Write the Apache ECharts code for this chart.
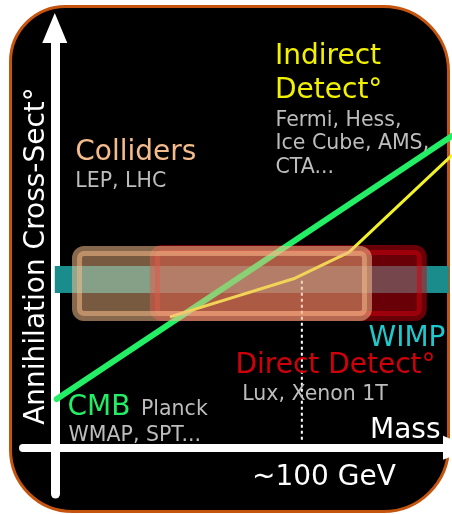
<!DOCTYPE html>
<html>
<head>
<meta charset="utf-8">
<script src="https://cdn.jsdelivr.net/npm/echarts@6/dist/echarts.min.js"></script>
<style>
  html, body { margin: 0; padding: 0; background: #ffffff; }
  #chart { width: 452px; height: 514px; }
</style>
</head>
<body>
<div id="chart"></div>
<script>
// ---- data (schematic units: mass on x, cross-section on y) ----
const massRange = [-8, 100];
const crossRange = [-11, 100];
const cmbMass = [0.5, 100];
const cmbCross = [11.6, 74.3];
const indirectMass = [29.0, 60.5, 74.1, 100];
const indirectCross = [31.2, 40.4, 46.6, 69.7];
const wimpBand = [0, 99.2, 36.9, 43.3];      // mass from, mass to, cross from, cross to
const colliderBox = [5.6, 78.6, 31.4, 46.9];
const directBox = [25.2, 92.4, 31.4, 47.1];
const gevMass = 62.2;
const gevCross = [1.9, 40];
const axisTitleY = 'Annihilation Cross-Sect°';
const axisTitleX = 'Mass';
const gevLabel = '~100 GeV';

const FONT = 'DejaVu Sans';
const BIG = 28, SMALL = 20.5;
const GREY = '#bdbdbd';

const chart = echarts.init(document.getElementById('chart'), null, { renderer: 'canvas' });

function pairs(xs, ys) { return xs.map((x, i) => [x, ys[i]]); }

function boxSeries(name, box, fill, stroke, lw, r, z) {
  return {
    type: 'custom', name: name, z: z,
    data: [box],
    encode: { x: [0, 1], y: [2, 3] },
    renderItem: function (params, api) {
      const p0 = api.coord([api.value(0), api.value(3)]);
      const p1 = api.coord([api.value(1), api.value(2)]);
      return {
        type: 'rect',
        shape: { x: p0[0], y: p0[1], width: p1[0] - p0[0], height: p1[1] - p0[1], r: r },
        style: { fill: fill, stroke: stroke, lineWidth: lw }
      };
    }
  };
}

function txt(text, x, y, size, color, lh) {
  return {
    type: 'text', x: x, y: y, z: 100, silent: true,
    style: {
      text: text, fill: color, font: size + 'px "' + FONT + '"',
      fontFamily: FONT, fontSize: size, lineHeight: lh || size,
      align: 'left', verticalAlign: 'top'
    }
  };
}

const option = {
  animation: false,
  grid: { left: 23, right: 0, top: 28, bottom: 20, containLabel: false, outerBoundsMode: 'none' },
  xAxis: {
    type: 'value', min: massRange[0], max: massRange[1],
    axisLine: { onZero: true, lineStyle: { color: '#ffffff', width: 8 },
      symbol: ['none', 'triangle'], symbolSize: [24, 30], symbolOffset: [0, 6] },
    axisTick: { show: false }, axisLabel: { show: false }, splitLine: { show: false }
  },
  yAxis: {
    type: 'value', min: crossRange[0], max: crossRange[1],
    name: axisTitleY, nameLocation: 'middle', nameGap: -27.5, nameRotate: 90,
    nameTextStyle: { color: '#ffffff', fontFamily: FONT, fontSize: BIG, padding: [0, 0, 0, 10] },
    axisLine: { onZero: true, lineStyle: { color: '#ffffff', width: 9 },
      symbol: ['none', 'triangle'], symbolSize: [25, 30] },
    axisTick: { show: false }, axisLabel: { show: false }, splitLine: { show: false }
  },
  graphic: {
    elements: [
      { type: 'rect', z: -10, silent: true,
        shape: { x: 10.5, y: 6.5, width: 438, height: 505, r: [55, 65, 65, 62] },
        style: { fill: '#000000', stroke: '#c4540e', lineWidth: 3 } },
      txt('Indirect\nDetect°', 275, 39.5, BIG, '#f2f200', 34),
      txt('Fermi, Hess,\nIce Cube, AMS,\nCTA...', 275.5, 108.8, SMALL, GREY, 23.5),
      txt('Colliders', 75.3, 138.7, BIG, '#f4bb8c'),
      txt('LEP, LHC', 75.3, 171.5, SMALL, GREY),
      txt('CMB', 67.5, 393.7, BIG, '#22ee66'),
      txt('Planck', 141, 399.5, SMALL, GREY),
      txt('WMAP, SPT...', 68.6, 425.5, SMALL, GREY),
      txt('WIMP', 368.5, 324.7, BIG, '#1ec8cc'),
      txt('Direct Detect°', 235.5, 351.7, BIG, '#d0000a'),
      txt('Lux, Xenon 1T', 242.3, 384.5, SMALL, GREY),
      txt(axisTitleX, 370, 416.7, BIG, '#ffffff'),
      txt(gevLabel, 252, 463.7, BIG, '#ffffff')
    ]
  },
  series: [
    boxSeries('WIMP', wimpBand, '#1b8c8c', null, 0, 0, 2),
    boxSeries('Direct', directBox, 'rgba(210,0,14,0.5)', 'rgba(210,0,14,0.5)', 10, 7, 3),
    {
      type: 'line', name: 'CMB', z: 4, symbol: 'none',
      data: pairs(cmbMass, cmbCross),
      lineStyle: { color: '#22ee66', width: 6, cap: 'round' }
    },
    {
      type: 'line', name: 'Indirect', z: 4, symbol: 'none',
      data: pairs(indirectMass, indirectCross),
      lineStyle: { color: '#f2f22a', width: 3 }
    },
    {
      type: 'line', name: '100 GeV', z: 4, symbol: 'none',
      data: gevCross.map(c => [gevMass, c]),
      lineStyle: { color: '#ffffff', width: 2, type: [3, 3] }
    },
    boxSeries('Colliders', colliderBox, 'rgba(240,180,130,0.5)', 'rgba(245,190,140,0.55)', 10, 7, 5)
  ]
};
chart.setOption(option);
</script>
</body>
</html>
